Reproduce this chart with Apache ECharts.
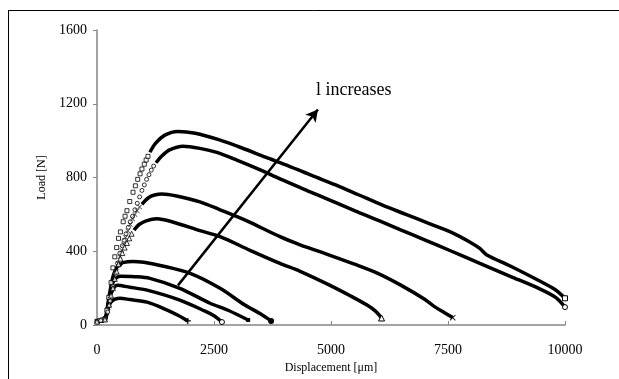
<!DOCTYPE html>
<html>
<head>
<meta charset="utf-8">
<script src="https://cdn.jsdelivr.net/npm/echarts@6/dist/echarts.min.js"></script>
<style>
html, body { margin: 0; padding: 0; background: #fff; }
#chart { width: 619px; height: 379px; }
</style>
</head>
<body>
<div id="chart"></div>
<script>
// axis ticks
var xTicks = [0, 2500, 5000, 7500, 10000];
var yTicks = [0, 400, 800, 1200, 1600];

// curve 1 (squares) - rising markers and dense part
var rise1 = [[0,20],[60,25],[120,28],[170,35],[210,80],[250,150],[300,230],[340,310],[380,370],[420,420],[460,470],[500,505],[560,560],[600,590],[640,620],[700,670],[770,720],[820,755],[870,790],[920,820],[960,846],[1010,872],[1050,895],[1090,915]];
var fall1 = [[1130,937],[1250,985],[1450,1030],[1730,1050],[2100,1040],[2600,1005],[3100,960],[3600,910],[4100,862],[4600,810],[5100,760],[5600,705],[6100,650],[6600,600],[7100,550],[7540,506],[8000,445],[8180,415],[8330,380],[8830,320],[9470,237],[9800,190],[10000,145]];

// curve 2 (circles)
var rise2 = [[0,18],[80,24],[170,32],[230,70],[280,130],[340,210],[390,280],[440,335],[490,390],[540,430],[580,460],[620,495],[670,530],[710,560],[760,590],[810,625],[860,660],[910,695],[960,730],[1010,760],[1060,790],[1110,815],[1160,840],[1210,862]];
var fall2 = [[1260,880],[1380,915],[1550,950],[1840,970],[2200,958],[2560,936],[3000,893],[3500,840],[3910,792],[4500,728],[5000,675],[5500,620],[6050,563],[6500,515],[7000,462],[7540,404],[8180,334],[8830,264],[9470,195],[9800,150],[10000,97]];

// curve 3 (crosses)
var rise3 = [[0,18],[170,30],[250,110],[290,160],[330,200],[370,250],[410,290],[450,335],[490,370],[530,405],[570,440],[610,475],[660,510],[710,545],[760,575],[810,600],[860,620],[910,640]];
var fall3 = [[960,655],[1100,690],[1230,705],[1390,711],[1700,700],[2200,668],[2630,625],[3200,565],[3910,479],[4340,435],[4980,378],[5500,330],[6000,280],[6500,215],[7000,140],[7180,105],[7400,70],[7600,40]];

// curve 4 (triangles)
var rise4 = [[0,18],[170,30],[260,110],[300,160],[340,200],[380,250],[420,290],[460,330],[500,360],[540,390],[590,420],[640,445],[690,470],[740,495]];
var fall4 = [[790,515],[900,545],[1050,565],[1280,576],[1600,560],[2200,512],[2630,479],[3270,405],[3910,334],[4340,291],[4980,215],[5400,160],[5770,108],[5950,75],[6080,38]];

// curves 5-8 (dense all along)
var curve5 = [[0,18],[100,24],[170,30],[230,110],[290,200],[350,270],[430,315],[490,325],[550,338],[770,345],[1000,340],[1350,323],[1990,280],[2630,199],[3160,108],[3500,60],[3720,22]];
var curve6 = [[0,18],[170,30],[230,100],[290,180],[360,240],[490,264],[800,262],[1130,253],[1770,199],[2415,118],[2800,80],[3230,27]];
var curve7 = [[0,18],[170,30],[230,100],[300,170],[430,215],[700,205],[1070,189],[1770,135],[2310,75],[2500,50],[2670,16]];
var curve8 = [[0,18],[170,30],[230,80],[300,125],[490,145],[700,138],[1070,124],[1500,81],[1750,50],[1940,22]];

// arrow "l increases"
var arrowFrom = [1730, 215];
var arrowTo = [4720, 1169];

var FONT = 'Liberation Serif';
var plusPath = 'path://M4,0H6V4H10V6H6V10H4V6H0V4H4Z';
var crossPath = 'path://M1,0L5,4L9,0L10,1L6,5L10,9L9,10L5,6L1,10L0,9L4,5L0,1Z';

function riseSeries(data, symbol, size, filled) {
	return {
		type: 'scatter',
		data: data,
		symbol: symbol,
		symbolSize: size,
		silent: true,
		itemStyle: {
			color: filled ? '#000' : '#fff',
			borderColor: '#000',
			borderWidth: filled ? 0 : 1
		},
		z: 3
	};
}
// dense part: thick line, marker shown only at the last point
function fallSeries(data, symbol, size, filled) {
	var last = data.length - 1;
	return {
		type: 'line',
		data: data,
		smooth: 0.3,
		symbol: symbol,
		symbolSize: function (val, params) {
			return params.dataIndex === last ? size : 0;
		},
		showAllSymbol: true,
		silent: true,
		lineStyle: { color: '#000', width: 3.5 },
		itemStyle: {
			color: filled ? '#000' : '#fff',
			borderColor: '#000',
			borderWidth: filled ? 0 : 1
		},
		z: 3
	};
}

var series = [
	riseSeries(rise1, 'rect', 4, false),
	fallSeries(fall1, 'rect', 5, false),
	riseSeries(rise2, 'circle', 4, false),
	fallSeries(fall2, 'circle', 5, false),
	riseSeries(rise3, crossPath, 5, true),
	fallSeries(fall3, crossPath, 6, true),
	riseSeries(rise4, 'triangle', 5, false),
	fallSeries(fall4, 'triangle', 6, false),
	fallSeries(curve5, 'circle', 6, true),
	fallSeries(curve6, 'rect', 4, true),
	fallSeries(curve7, 'circle', 5, false),
	fallSeries(curve8, plusPath, 6, true)
];

// annotation arrow
series.push({
	type: 'line',
	data: [],
	silent: true,
	markLine: {
		silent: true,
		symbol: ['none', 'arrow'],
		symbolSize: [10, 12],
		label: { show: false },
		lineStyle: { color: '#000', width: 2.5, type: 'solid' },
		data: [[{ coord: arrowFrom }, { coord: arrowTo }]]
	}
});

var chart = echarts.init(document.getElementById('chart'));
chart.setOption({
	animation: false,
	backgroundColor: '#fff',
	grid: { left: 97, right: 54, top: 30, bottom: 52 },
	xAxis: {
		type: 'value',
		min: xTicks[0],
		max: xTicks[xTicks.length - 1],
		interval: 2500,
		name: 'Displacement [\u03bcm]',
		nameLocation: 'middle',
		nameGap: 37,
		nameTextStyle: { fontFamily: FONT, fontSize: 12, color: '#000' },
		axisLine: { lineStyle: { color: '#868686', width: 1.5 } },
		axisTick: { inside: true, length: 4, lineStyle: { color: '#868686' } },
		axisLabel: { fontFamily: FONT, fontSize: 14, color: '#000', margin: 18, formatter: function (v) { return String(v); } },
		splitLine: { show: false }
	},
	yAxis: {
		type: 'value',
		min: yTicks[0],
		max: yTicks[yTicks.length - 1],
		interval: 400,
		name: 'Load [N]',
		nameLocation: 'middle',
		nameGap: 46,
		nameTextStyle: { fontFamily: FONT, fontSize: 12, color: '#000' },
		axisLine: { show: true, lineStyle: { color: '#868686', width: 1.5 } },
		axisTick: { show: true, length: 4, lineStyle: { color: '#868686' } },
		axisLabel: { fontFamily: FONT, fontSize: 14, color: '#000', margin: 10, formatter: function (v) { return String(v); } },
		splitLine: { show: false }
	},
	graphic: [
		{ type: 'line', shape: { x1: 8, y1: 10.5, x2: 619, y2: 10.5 }, style: { stroke: '#000', lineWidth: 1 } },
		{ type: 'line', shape: { x1: 8.5, y1: 10, x2: 8.5, y2: 379 }, style: { stroke: '#000', lineWidth: 1 } },
		{ type: 'text', left: 316, top: 81, style: { text: 'l increases', font: '18px "Liberation Serif"', fill: '#000' } }
	],
	series: series
});
</script>
</body>
</html>
